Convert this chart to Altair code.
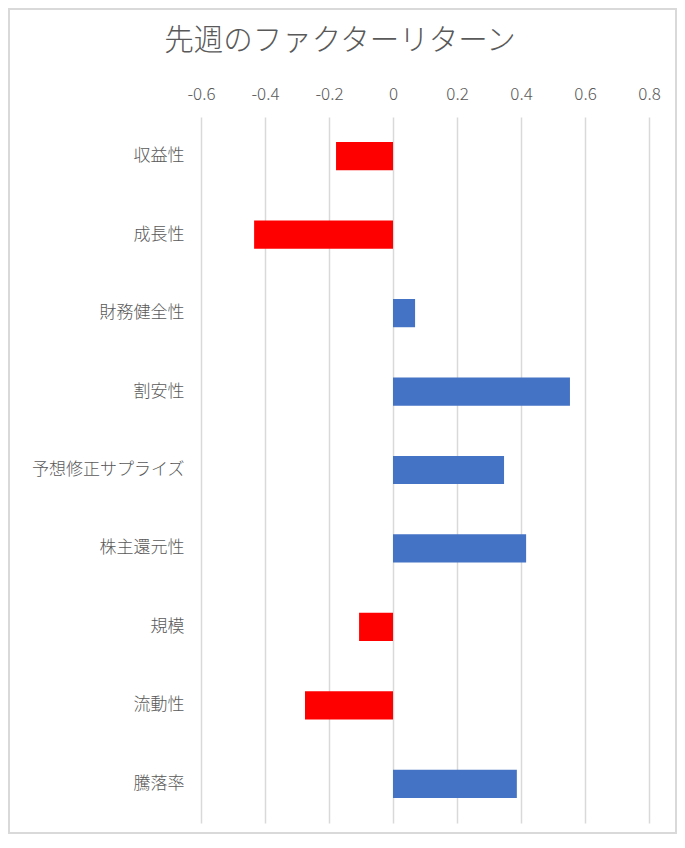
import altair as alt
import pandas as pd

categories = ["収益性", "成長性", "財務健全性", "割安性", "予想修正サプライズ",
              "株主還元性", "規模", "流動性", "騰落率"]
returns = [-0.178, -0.434, 0.069, 0.553, 0.347, 0.416, -0.106, -0.275, 0.387]
x_ticks = [-0.6, -0.4, -0.2, 0, 0.2, 0.4, 0.6, 0.8]

df = pd.DataFrame({"factor": categories, "ret": returns})
df["color"] = ["#FF0000" if v < 0 else "#4472C4" for v in returns]

FONT = "Noto Sans CJK JP"
GRAY = "#595959"

bars = alt.Chart(df).mark_bar().encode(
    x=alt.X("ret:Q",
            scale=alt.Scale(domain=[-0.6, 0.8], nice=False, zero=False),
            axis=alt.Axis(orient="top", values=x_ticks, title=None,
                          labelExpr="datum.value == 0 ? '0' : replace(format(datum.value, '.1f'), '\u2212', '-')",
                          grid=True, gridColor="#D9D9D9", gridWidth=1.5,
                          domain=False, ticks=False, labelPadding=14,
                          labelFlush=False, labelOverlap=False,
                          labelFont=FONT, labelFontSize=17, labelColor=GRAY,
                          labelFontWeight=300)),
    y=alt.Y("factor:N", sort=categories,
            scale=alt.Scale(paddingInner=0.64, paddingOuter=0.32),
            axis=alt.Axis(title=None, domain=False, ticks=False, grid=False,
                          labelPadding=17, labelFont=FONT, labelFontSize=17,
                          labelColor=GRAY, labelFontWeight=300,
                          labelLimit=300)),
    color=alt.Color("color:N", scale=None, legend=None),
)

border = alt.Chart(df).mark_rect(
    fill=None, stroke="#D9D9D9", strokeWidth=2
).encode(
    x=alt.value(-192), x2=alt.value(475),
    y=alt.value(-108), y2=alt.value(716),
)

chart = alt.layer(bars, border).properties(
    width=448,
    height=706,
    padding={"left": 193, "top": 109, "right": 28, "bottom": 12},
    autosize=alt.AutoSizeParams(type="none"),
    title=alt.TitleParams(
        "先週のファクターリターン",
        font=FONT, fontSize=29.5, fontWeight=300, color=GRAY,
        anchor="middle", frame="group", dx=-85, offset=-77, baseline="bottom",
    ),
).configure(background="white").configure_view(stroke="transparent", strokeWidth=0)

chart.save("out.html", embed_options={"renderer": "svg", "actions": False})
